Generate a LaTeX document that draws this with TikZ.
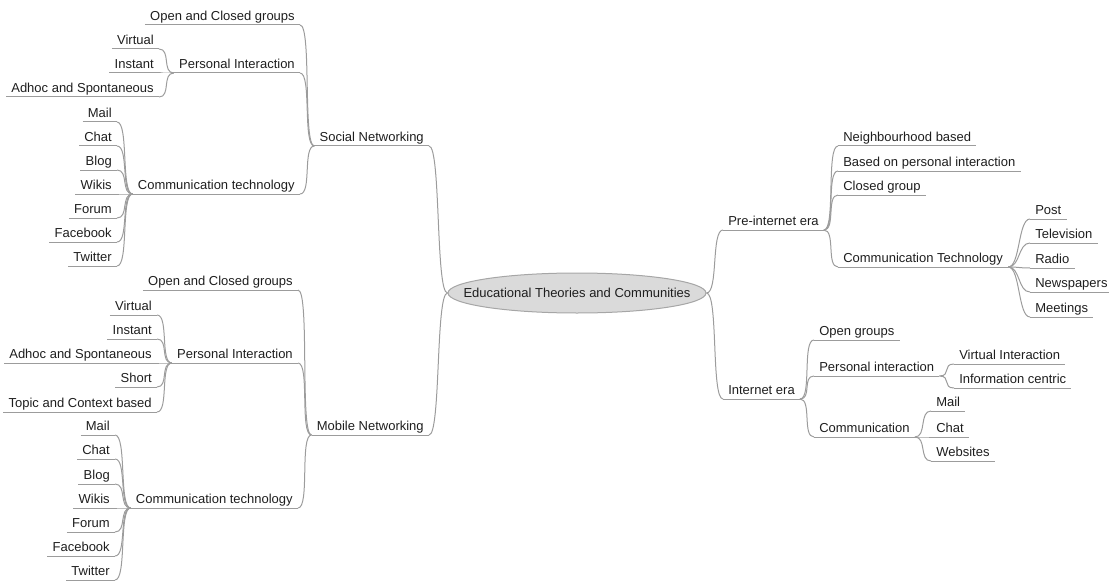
\documentclass[tikz,border=0pt]{standalone}
\usepackage{fontspec}
\setmainfont{Liberation Sans}
\usepackage{tikz}
\usetikzlibrary{shapes.geometric}
\definecolor{mmtext}{HTML}{1E1E1E}
\definecolor{mmline}{HTML}{9C9C9C}
\definecolor{mmfill}{HTML}{DADADA}
\definecolor{mmedge}{HTML}{A6A6A6}

\begin{document}
\begin{tikzpicture}[x=0.75pt,y=-0.75pt,
  every node/.style={font=\fontsize{9.75}{11}\selectfont,text=mmtext},
  uline/.style={draw=mmline,line width=0.75pt},
  link/.style={draw=mmline,line width=0.75pt},
  topic/.style={inner xsep=3.75pt,inner ysep=0.75pt,text height=7.2pt,text depth=2.25pt,
    append after command={(\tikzlastnode.south west) edge[uline] (\tikzlastnode.south east)}},
  ltopic/.style={topic,anchor=south east},
  rtopic/.style={topic,anchor=south west}]
\useasboundingbox (0,0) rectangle (1109,581);

% root
\node[ellipse,draw=mmedge,fill=mmfill,line width=0.75pt,minimum width=193.5pt,
  minimum height=30pt,inner xsep=-20pt,inner ysep=0pt] (root) at (577,293) {Educational Theories and Communities};

% left side
\node[ltopic] (sn) at (429,146) {Social Networking};
\node[ltopic] (mn) at (429,435) {Mobile Networking};
\draw[link] (root.west) .. controls +(-12,0) and +(12,0) .. (sn.south east);
\draw[link] (root.west) .. controls +(-12,0) and +(12,0) .. (mn.south east);

% social networking
\node[ltopic] (sn-grp) at (300,25) {Open and Closed groups};
\node[ltopic] (sn-pi) at (300,73) {Personal Interaction};
\node[ltopic] (sn-ct) at (300,194) {Communication technology};
\foreach \id in {sn-grp,sn-pi,sn-ct}
  \draw[link] (sn.south west) .. controls +(-12,0) and +(12,0) .. (\id.south east);
\foreach \id/\txt/\y in {1/Virtual/49,2/Instant/73,3/Adhoc and Spontaneous/97} {
  \node[ltopic] (sn-pi-\id) at (159,\y) {\txt};
  \draw[link] (sn-pi.south west) .. controls +(-12,0) and +(12,0) .. (sn-pi-\id.south east);
}
\foreach \id/\txt/\y in {1/Mail/122,2/Chat/146,3/Blog/170,4/Wikis/194,5/Forum/218,6/Facebook/242,7/Twitter/266} {
  \node[ltopic] (sn-ct-\id) at (117,\y) {\txt};
  \draw[link] (sn-ct.south west) .. controls +(-12,0) and +(12,0) .. (sn-ct-\id.south east);
}

% mobile networking
\node[ltopic] (mn-grp) at (298,290) {Open and Closed groups};
\node[ltopic] (mn-pi) at (298,363) {Personal Interaction};
\node[ltopic] (mn-ct) at (298,508) {Communication technology};
\foreach \id in {mn-grp,mn-pi,mn-ct}
  \draw[link] (mn.south west) .. controls +(-12,0) and +(12,0) .. (\id.south east);
\foreach \id/\txt/\y in {1/Virtual/315,2/Instant/339,3/Adhoc and Spontaneous/363,4/Short/387,5/Topic and Context based/412} {
  \node[ltopic] (mn-pi-\id) at (157,\y) {\txt};
  \draw[link] (mn-pi.south west) .. controls +(-12,0) and +(12,0) .. (mn-pi-\id.south east);
}
\foreach \id/\txt/\y in {1/Mail/435,2/Chat/459,3/Blog/484,4/Wikis/508,5/Forum/532,6/Facebook/556,7/Twitter/580} {
  \node[ltopic] (mn-ct-\id) at (115,\y) {\txt};
  \draw[link] (mn-ct.south west) .. controls +(-12,0) and +(12,0) .. (mn-ct-\id.south east);
}

% right side
\node[rtopic] (pre) at (723,230) {Pre-internet era};
\node[rtopic] (int) at (723,399) {Internet era};
\draw[link] (root.east) .. controls +(12,0) and +(-12,0) .. (pre.south west);
\draw[link] (root.east) .. controls +(12,0) and +(-12,0) .. (int.south west);

% pre-internet era
\foreach \id/\txt/\y in {1/Neighbourhood based/146,2/Based on personal interaction/171,3/Closed group/195,ct/Communication Technology/267} {
  \node[rtopic] (pre-\id) at (838,\y) {\txt};
  \draw[link] (pre.south east) .. controls +(12,0) and +(-12,0) .. (pre-\id.south west);
}
\foreach \id/\txt/\y in {1/Post/219,2/Television/243,3/Radio/268,4/Newspapers/292,5/Meetings/317} {
  \node[rtopic] (pre-ct-\id) at (1030,\y) {\txt};
  \draw[link] (pre-ct.south east) .. controls +(12,0) and +(-12,0) .. (pre-ct-\id.south west);
}

% internet era
\foreach \id/\txt/\y in {grp/Open groups/340,pi/Personal interaction/376,com/Communication/437} {
  \node[rtopic] (int-\id) at (814,\y) {\txt};
  \draw[link] (int.south east) .. controls +(12,0) and +(-12,0) .. (int-\id.south west);
}
\foreach \id/\txt/\y in {1/Virtual Interaction/364,2/Information centric/388} {
  \node[rtopic] (int-pi-\id) at (954,\y) {\txt};
  \draw[link] (int-pi.south east) .. controls +(12,0) and +(-12,0) .. (int-pi-\id.south west);
}
\foreach \id/\txt/\y in {1/Mail/411,2/Chat/437,3/Websites/461} {
  \node[rtopic] (int-com-\id) at (931,\y) {\txt};
  \draw[link] (int-com.south east) .. controls +(12,0) and +(-12,0) .. (int-com-\id.south west);
}
\end{tikzpicture}
\end{document}
